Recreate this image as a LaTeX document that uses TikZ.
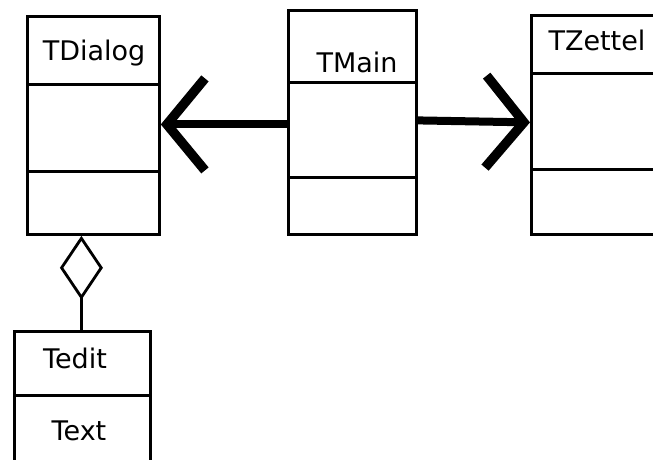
\documentclass[tikz,border=0pt]{standalone}
\usepackage{fontspec}
\setmainfont{DejaVu Sans}
\usetikzlibrary{arrows.meta}
\begin{document}
\begin{tikzpicture}[x=1pt,y=-1pt,
  comp/.style={draw=black, line width=2.8pt, inner sep=0pt, anchor=north west},
  lbl/.style={font=\fontsize{27}{32}\selectfont, inner sep=0pt, anchor=base},
  bigarrow/.style={line width=8pt, -{Straight Barb[length=38pt,width=92pt,line width=9.5pt]}},
  aggr/.style={line width=2.8pt, -{Diamond[open,length=64pt,width=43pt]}}
]
\useasboundingbox (0,0) rectangle (653,459);
\clip (0,0) rectangle (653,459);
% TDialog
\node[comp, minimum width=132pt, minimum height=68pt] (dlgTop) at (26,15) {};
\node[comp, minimum width=132pt, minimum height=87pt] (dlgMid) at (26,83) {};
\node[comp, minimum width=132pt, minimum height=63pt] (dlgBot) at (26,170) {};
\node[lbl] (dlgName) at (94,60) {TDialog};
% TMain
\node[comp, minimum width=128pt, minimum height=72pt] (mainTop) at (287,9) {};
\node[comp, minimum width=128pt, minimum height=95pt] (mainMid) at (287,81) {};
\node[comp, minimum width=128pt, minimum height=57pt] (mainBot) at (287,176) {};
\node[lbl] (mainName) at (357,72) {TMain};
% TZettel
\node[comp, minimum width=170pt, minimum height=58pt] (zetTop) at (530,14) {};
\node[comp, minimum width=170pt, minimum height=96pt] (zetMid) at (530,72) {};
\node[comp, minimum width=170pt, minimum height=65pt] (zetBot) at (530,168) {};
\node[lbl] (zetName) at (597,50) {TZettel};
% Tedit
\node[comp, minimum width=136pt, minimum height=64pt] (editTop) at (13,330) {};
\node[comp, minimum width=136pt, minimum height=90pt] (editBot) at (13,394) {};
\node[lbl] (editName) at (75,368) {Tedit};
\node[lbl] (editAttr) at (79,440) {Text};
% connectors
\draw[bigarrow] ([yshift=5.5pt]mainMid.west) -- ([yshift=3.5pt]dlgMid.east);
\draw[bigarrow] ([yshift=9.5pt]mainMid.east) -- ([yshift=-1pt]zetMid.west);
\draw[aggr] ([xshift=-1pt]editTop.north) -- ([xshift=-12pt]dlgBot.south);
\end{tikzpicture}
\end{document}
